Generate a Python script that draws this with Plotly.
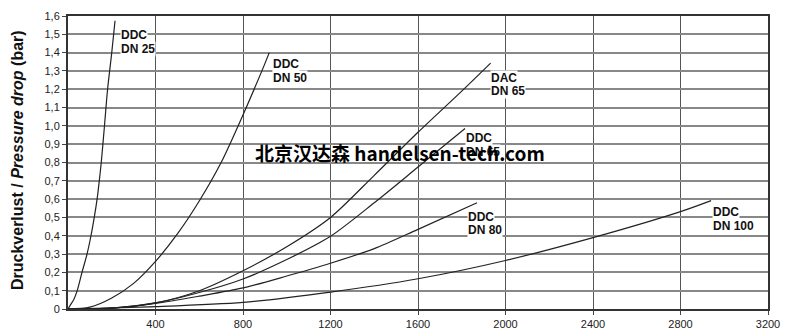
import plotly.graph_objects as go

# Flow (x) and pressure drop (bar) for each valve curve
dn25_x = [0, 10, 26, 41, 64, 87, 105, 120, 133, 143, 152, 166, 181, 200, 215]
dn25_y = [0, 0.02, 0.05, 0.096, 0.2, 0.3, 0.4, 0.5, 0.6, 0.7, 0.8, 0.99, 1.2, 1.4, 1.574]

dn50_x = [0, 100, 200, 300, 400, 500, 600, 700, 800, 900, 920]
dn50_y = [0, 0.01, 0.06, 0.14, 0.26, 0.41, 0.59, 0.80, 1.06, 1.34, 1.40]

dac65_x = [0, 200, 400, 600, 800, 1000, 1200, 1400, 1600, 1800, 1932]
dac65_y = [0, 0.005, 0.033, 0.10, 0.209, 0.34, 0.50, 0.73, 0.965, 1.19, 1.343]

ddc65_x = [0, 200, 400, 600, 800, 1000, 1200, 1400, 1600, 1815]
ddc65_y = [0, 0.005, 0.033, 0.09, 0.164, 0.27, 0.397, 0.58, 0.775, 0.986]

dn80_x = [0, 200, 400, 600, 800, 1000, 1200, 1400, 1600, 1870]
dn80_y = [0, 0.004, 0.03, 0.07, 0.115, 0.18, 0.25, 0.33, 0.435, 0.58]

dn100_x = [0, 400, 800, 1200, 1600, 2000, 2400, 2800, 2940]
dn100_y = [0, 0.013, 0.036, 0.092, 0.165, 0.265, 0.39, 0.532, 0.592]

series = [
    (dn25_x, dn25_y),
    (dn50_x, dn50_y),
    (dac65_x, dac65_y),
    (ddc65_x, ddc65_y),
    (dn80_x, dn80_y),
    (dn100_x, dn100_y),
]

# Curve labels: (text line, x value, y value)
label_text = ["DDC", "DN 25", "DDC", "DN 50", "DAC", "DN 65", "DDC", "DN 65",
              "DDC", "DN 80", "DDC", "DN 100"]
label_x = [238, 238, 933, 933, 1929, 1929, 1817, 1817, 1826, 1826, 2944, 2944]
label_y = [1.498, 1.420, 1.336, 1.264, 1.262, 1.189, 0.932, 0.860, 0.505, 0.432, 0.529, 0.456]

x_ticks = [400, 800, 1200, 1600, 2000, 2400, 2800, 3200]
y_ticks = [0, 0.1, 0.2, 0.3, 0.4, 0.5, 0.6, 0.7, 0.8, 0.9, 1.0, 1.1, 1.2, 1.3, 1.4, 1.5, 1.6]
y_tick_text = ["0", "0,1", "0,2", "0,3", "0,4", "0,5", "0,6", "0,7", "0,8", "0,9",
               "1,0", "1,1", "1,2", "1,3", "1,4", "1,5", "1,6"]

fig = go.Figure()
for xs, ys in series:
    fig.add_trace(go.Scatter(x=xs, y=ys, mode="lines", line=dict(color="#222", width=1.2, shape="spline", smoothing=0.8),
                             showlegend=False, hoverinfo="skip"))

for t, lx, ly in zip(label_text, label_x, label_y):
    fig.add_annotation(x=lx, y=ly, xref="x", yref="y", text="<b>%s</b>" % t, showarrow=False,
                       xanchor="left", yanchor="middle", bgcolor="white", borderpad=0,
                       font=dict(family="Liberation Sans, Arial", size=12, color="#111"))

fig.add_annotation(x=(17 - 68) / 700, y=(309.5 - 160) / 294, xref="paper", yref="paper", textangle=-90,
                   text="<b>Druckverlust / <i>Pressure drop</i> (bar)</b>", showarrow=False,
                   xanchor="center", yanchor="middle",
                   font=dict(family="Liberation Sans, Arial", size=16, color="#111"))

fig.add_annotation(x=(400 - 68) / 700, y=(309.5 - 152) / 294, xref="paper", yref="paper",
                   text="<b>北京汉达森 handelsen-tech.com</b>", showarrow=False,
                   xanchor="center", yanchor="middle",
                   font=dict(family="Noto Sans CJK SC", size=19, color="#000"))

fig.update_xaxes(range=[0, 3200], tickvals=x_ticks, ticks="outside", ticklen=4, tickcolor="#444",
                 showgrid=True, gridcolor="#555", gridwidth=1, showline=True, linecolor="#333",
                 linewidth=2, mirror=True, zeroline=False, automargin=False,
                 tickfont=dict(family="Liberation Sans, Arial", size=11, color="#222"))
fig.update_yaxes(range=[0, 1.6], tickvals=y_ticks, ticktext=y_tick_text, ticks="outside", ticklen=4,
                 tickcolor="#444", showgrid=True, gridcolor="#888", gridwidth=1.5, showline=True,
                 linecolor="#333", linewidth=2, mirror=True, zeroline=False, automargin=False,
                 tickfont=dict(family="Liberation Sans, Arial", size=11, color="#222"))

fig.update_layout(width=800, height=336, margin=dict(l=68, r=32, t=15.5, b=26.5, autoexpand=False),
                  plot_bgcolor="white", paper_bgcolor="white")

fig.write_html("out.html")
